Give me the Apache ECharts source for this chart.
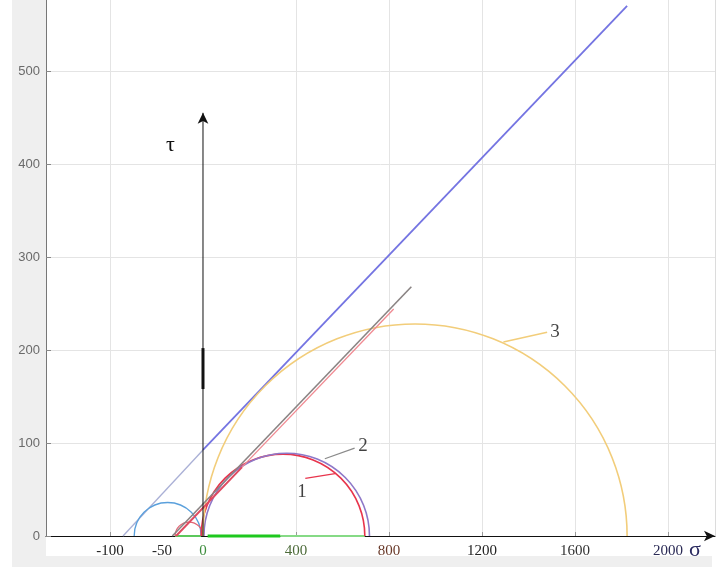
<!DOCTYPE html>
<html><head><meta charset="utf-8">
<script src="https://cdn.jsdelivr.net/npm/echarts@6/dist/echarts.min.js"></script>
<style>html,body{margin:0;padding:0;background:#fff}#c{width:719px;height:567px}</style>
</head><body><div id="c"></div>
<script>
// Plot units: u on the horizontal scale (same pixel scale as tau), tau vertical
const xTickU = [-100, 100, 200, 300, 400, 500];
const xLabelU = [-100, -44, 0, 100, 200, 300, 400, 500];
const xLabelText = ['-100', '-50', '0', '400', '800', '1200', '1600', '2000'];
const xLabelColor = ['#222', '#222', '#3c8c3c', '#4d6b3a', '#6a3a2a', '#222', '#333', '#2a2a55'];
const yTicks = [0, 100, 200, 300, 400, 500];

// Mohr circles: centre (u), radius
const circleNames = ['blue', 'smallRed', 'circle1', 'circle2', 'circle3'];
const circleCenters = [-38, -15, 86, 90, 228];
const circleRadii = [36, 15, 88, 89, 228];
const circleColors = ['#5aa0dc', '#e06474', '#e8344c', '#8e78c8', '#f2cd7a'];
const circleWidths = [1.3, 1.3, 1.6, 1.6, 1.6];

// Envelope lines
const blueLower = [[-86, 0], [0, 92.5]];
const blueUpper = [[0, 92.5], [456, 570]];
const grayLine = [[-33, 0], [224, 268]];
const redLower = [[-29, 0], [42, 74]];
const redUpper = [[42, 74], [205, 244]];
const greenMain = [[5, 0], [83, 0]];
const greenTail = [[83, 0], [174, 0]];
const greenLeft = [[-30, 0], [-2, 0]];
const tauAxis = [[0, 0], [0, 455]];
const tauThick = [[0, 158], [0, 202]];

// Callouts
const calloutText = ['1', '2', '3'];
const calloutPos = [[106.5, 47], [172, 97], [378.5, 219]];
const leader1 = [[110, 62], [142, 67]];
const leader2 = [[163, 94.5], [131, 83]];
const leader3 = [[370, 219], [323, 208.5]];

function seg(data, color, width, z) {
  return { type: 'line', data: data, symbol: 'none', clip: false, z: z || 3,
    lineStyle: { color: color, width: width }, silent: true };
}

const chart = echarts.init(document.getElementById('c'), null, { renderer: 'canvas' });
const series = [
  seg(blueLower, '#aab0d6', 1.3),
  seg(blueUpper, '#7474e2', 1.8),
  seg(greenLeft, '#5cc85c', 2),
  seg(greenTail, '#86da86', 2),
  seg(greenMain, '#1ec81e', 3),
  {
    type: 'custom', clip: false, z: 4,
    data: circleCenters.map((c, i) => [c, circleRadii[i], i]),
    encode: { x: 0 },
    renderItem: function (params, api) {
      const i = api.value(2);
      const p = api.coord([api.value(0), 0]);
      const r = api.size([api.value(1), 0])[0];
      return { type: 'arc', shape: { cx: p[0], cy: p[1], r: r, startAngle: Math.PI, endAngle: 2 * Math.PI, clockwise: true },
        style: { stroke: circleColors[i], fill: 'none', lineWidth: circleWidths[i] } };
    }
  },
  seg(grayLine, '#8a8484', 1.6, 5),
  seg(redLower, '#e04a60', 2, 5),
  seg(redUpper, '#f08a92', 1.3, 5),
  seg(leader1, '#e8344c', 1.2, 5),
  seg(leader2, '#8a8a8a', 1.2, 5),
  seg(leader3, '#f2cd7a', 1.6, 5),
  {
    type: 'line', z: 6, clip: false, silent: true,
    data: [{ value: tauAxis[0], symbol: 'none' }, { value: tauAxis[1], symbol: 'arrow', symbolSize: [8, 11] }],
    showAllSymbol: true,
    lineStyle: { color: '#111', width: 1 }, itemStyle: { color: '#111' }
  },
  seg(tauThick, '#111', 3, 6),
  {
    type: 'scatter', z: 7, symbolSize: 0, clip: false, silent: true,
    data: calloutPos.map((p, i) => [p[0], p[1], calloutText[i]]),
    label: { show: true, position: 'inside', formatter: p => p.value[2],
      fontFamily: 'Liberation Serif', fontSize: 19, color: '#111' }
  }
];

chart.setOption({
  animation: false,
  backgroundColor: '#fff',
  grid: { left: 46, right: 4, top: 0, bottom: 31, containLabel: false },
  xAxis: {
    type: 'value', min: -168.8, max: 550.5,
    axisLine: { show: true, onZero: false, symbol: ['none', 'arrow'], symbolSize: [8, 11],
      lineStyle: { color: '#111', width: 1.2 } },
    axisTick: { show: true, inside: true, length: 4, customValues: xTickU, lineStyle: { color: '#999' } },
    splitLine: { show: true, lineStyle: { color: '#e4e4e4', width: 1 } },
    axisLabel: {
      customValues: xLabelU, margin: 8,
      fontFamily: 'Liberation Serif', fontSize: 15,
      formatter: function (v) {
        let k = 0, best = 1e9;
        xLabelU.forEach((u, i) => { if (Math.abs(u - v) < best) { best = Math.abs(u - v); k = i; } });
        return '{c' + k + '|' + xLabelText[k] + '}';
      },
      rich: Object.fromEntries(xLabelColor.map((c, i) => ['c' + i, { color: c, fontFamily: 'Liberation Serif', fontSize: 15 }]))
    }
  },
  yAxis: {
    type: 'value', min: 0, max: 576.3, interval: 100,
    axisLine: { show: true, onZero: false, lineStyle: { color: '#777', width: 1 } },
    axisTick: { show: true, inside: true, length: 5, customValues: yTicks, lineStyle: { color: '#888' } },
    splitLine: { show: true, lineStyle: { color: '#e4e4e4', width: 1 } },
    axisLabel: { customValues: yTicks, margin: 6, color: '#6a6a6a', fontFamily: 'Liberation Sans', fontSize: 13 }
  },
  graphic: [
    { type: 'rect', z: -10, silent: true, shape: { x: 12, y: 0, width: 34, height: 556 }, style: { fill: '#efefef' } },
    { type: 'rect', z: -10, silent: true, shape: { x: 12, y: 556, width: 700, height: 11 }, style: { fill: '#efefef' } },
    { type: 'line', z: -5, silent: true, shape: { x1: 715.5, y1: 0, x2: 715.5, y2: 536 }, style: { stroke: '#dcdcdc', lineWidth: 1 } },
    { type: 'text', z: 10, silent: true, left: 166, top: 134, style: { text: 'τ', font: '22px "Liberation Serif"', fill: '#111' } },
    { type: 'text', z: 10, silent: true, left: 689, top: 539, style: { text: 'σ', font: '22px "Liberation Serif"', fill: '#2a2a60' } }
  ],
  series: series
});
</script></body></html>
